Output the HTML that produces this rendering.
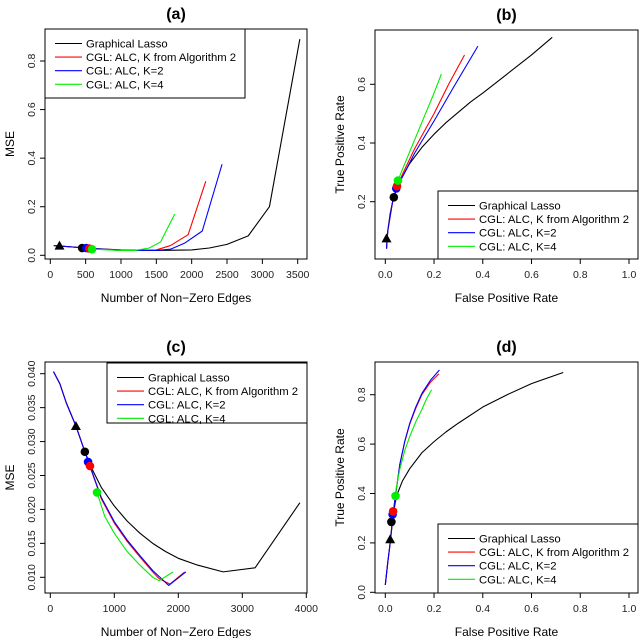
<!DOCTYPE html>
<html><head><meta charset="utf-8"><style>
body{margin:0;background:#fff;}
svg text{font-family:"Liberation Sans",Arial,sans-serif;}
</style></head><body>
<svg id="s" width="640" height="638" xmlns="http://www.w3.org/2000/svg"></svg>
<script>
// ---- data (a)
const aTicksX=[0,500,1000,1500,2000,2500,3000,3500];
const aTicksY=[0.0,0.2,0.4,0.6,0.8];
const aGLx=[50,500,1000,1500,2000,2250,2500,2800,3100,3530];
const aGLy=[0.04,0.03,0.022,0.02,0.022,0.03,0.045,0.08,0.2,0.89];
const aRx=[50,500,1000,1500,1700,1950,2200];
const aRy=[0.04,0.03,0.02,0.022,0.04,0.085,0.305];
const aBx=[50,500,1000,1500,1700,1900,2150,2430];
const aBy=[0.04,0.03,0.02,0.02,0.025,0.05,0.1,0.375];
const aGx=[600,1000,1200,1400,1560,1760];
const aGy=[0.025,0.02,0.02,0.03,0.055,0.17];
const aMk=[[130,0.04],[450,0.03],[510,0.03],[550,0.028],[590,0.025]];
// ---- data (b)
const bTicksX=[0,0.2,0.4,0.6,0.8,1.0];
const bTicksY=[0.2,0.4,0.6];
const bGLx=[0.005,0.01,0.02,0.03,0.045,0.06,0.08,0.1,0.15,0.2,0.25,0.3,0.35,0.4,0.5,0.6,0.685];
const bGLy=[0.04,0.1,0.16,0.2,0.24,0.27,0.30,0.33,0.385,0.43,0.47,0.505,0.54,0.57,0.635,0.70,0.76];
const bRx=[0.005,0.01,0.03,0.048,0.08,0.12,0.16,0.2,0.26,0.325];
const bRy=[0.04,0.1,0.2,0.253,0.31,0.38,0.44,0.5,0.6,0.7];
const bBx=[0.005,0.01,0.03,0.045,0.08,0.12,0.16,0.2,0.28,0.38];
const bBy=[0.04,0.1,0.2,0.245,0.3,0.365,0.42,0.475,0.59,0.73];
const bGx=[0.052,0.08,0.12,0.16,0.2,0.23];
const bGy=[0.272,0.33,0.41,0.49,0.57,0.635];
const bMk=[[0.005,0.075],[0.035,0.215],[0.045,0.245],[0.048,0.253],[0.052,0.272]];
// ---- data (c)
const cTicksX=[0,1000,2000,3000,4000];
const cTicksY=[0.010,0.015,0.020,0.025,0.030,0.035,0.040];
const cGLx=[50,150,250,400,540,650,800,1000,1200,1400,1600,1800,2000,2300,2700,3200,3900];
const cGLy=[0.0403,0.0385,0.0357,0.0323,0.0285,0.026,0.0232,0.0205,0.0183,0.0165,0.015,0.0138,0.0128,0.0118,0.0108,0.0114,0.021];
const cRx=[50,150,250,400,540,650,800,1000,1200,1400,1600,1700,1870,2100];
const cRy=[0.0403,0.0385,0.0357,0.0323,0.0285,0.0255,0.0215,0.018,0.0153,0.013,0.0108,0.0098,0.009,0.0108];
const cBx=[50,150,250,400,540,650,800,1000,1200,1400,1600,1850,2120];
const cBy=[0.0403,0.0385,0.0357,0.0323,0.0285,0.0256,0.0217,0.0182,0.0155,0.0132,0.011,0.0088,0.0108];
const cGx=[730,850,1000,1200,1400,1600,1700,1920];
const cGy=[0.0225,0.019,0.0165,0.0138,0.0118,0.01,0.0095,0.0108];
const cMk=[[400,0.0323],[540,0.0285],[590,0.027],[620,0.0264],[730,0.0225]];
// ---- data (d)
const dTicksX=[0,0.2,0.4,0.6,0.8,1.0];
const dTicksY=[0.0,0.2,0.4,0.6,0.8];
const dGLx=[0,0.01,0.02,0.03,0.04,0.05,0.07,0.1,0.15,0.2,0.25,0.3,0.4,0.5,0.6,0.73];
const dGLy=[0.03,0.12,0.2,0.29,0.36,0.4,0.45,0.5,0.565,0.61,0.65,0.685,0.75,0.8,0.845,0.89];
const dRx=[0,0.01,0.02,0.03,0.04,0.05,0.06,0.08,0.1,0.125,0.15,0.185,0.22];
const dRy=[0.03,0.12,0.2,0.3,0.38,0.45,0.52,0.61,0.68,0.745,0.8,0.85,0.885];
const dBx=[0,0.01,0.02,0.03,0.04,0.05,0.06,0.08,0.1,0.125,0.15,0.185,0.222];
const dBy=[0.03,0.12,0.2,0.3,0.38,0.45,0.52,0.612,0.683,0.75,0.805,0.858,0.9];
const dGx=[0.04,0.05,0.06,0.08,0.1,0.125,0.15,0.17,0.19];
const dGy=[0.39,0.45,0.5,0.575,0.63,0.69,0.74,0.785,0.82];
const dMk=[[0.02,0.215],[0.025,0.285],[0.03,0.315],[0.032,0.328],[0.042,0.39]];

const legendLabels=["Graphical Lasso","CGL: ALC, K from Algorithm 2","CGL: ALC, K=2","CGL: ALC, K=4"];
const COLS=["#000","#ff0000","#0000ff","#00ee00"];
const NS="http://www.w3.org/2000/svg";
const svg=document.getElementById('s');
function el(t,a,p){const e=document.createElementNS(NS,t);for(const k in a)e.setAttribute(k,a[k]);(p||svg).appendChild(e);return e;}
function fmt(v,d){return v.toFixed(d);}
function panel(o){
  const g=el('g',{});
  
  
  const sx=v=>o.x0+(v-o.dx0)*(o.x1-o.x0)/(o.dx1-o.dx0);
  const sy=v=>o.y0+(v-o.dy0)*(o.y1-o.y0)/(o.dy1-o.dy0);
  let t=el('text',{x:(o.L+o.R)/2,y:o.T-10,'text-anchor':'middle','font-size':16,'font-weight':'bold'},g);t.textContent='('+o.id+')';
  
  el('rect',{x:o.L,y:o.T,width:o.R-o.L,height:o.B-o.T,fill:'none',stroke:'#000','stroke-width':1},g);
  o.tx.forEach(v=>{const x=sx(v);el('line',{x1:x,x2:x,y1:o.B,y2:o.B+5,stroke:'#000'},g);
    const tt=el('text',{x:x,y:o.B+19,'text-anchor':'middle','font-size':10.5,fill:'#222'},g);tt.textContent=fmt(v,o.xd);
    });
  o.ty.forEach(v=>{const y=sy(v);el('line',{x1:o.L-5,x2:o.L,y1:y,y2:y,stroke:'#000'},g);
    const tt=el('text',{x:0,y:0,'text-anchor':'middle','font-size':10.5,fill:'#222',transform:`translate(${o.L-10},${y}) rotate(-90)`},g);tt.textContent=fmt(v,o.yd);
    });
  t=el('text',{x:(o.L+o.R)/2,y:o.B+43,'text-anchor':'middle','font-size':12},g);t.textContent=o.xl;
  
  t=el('text',{x:0,y:0,'text-anchor':'middle','font-size':12,transform:`translate(${o.L-31},${(o.T+o.B)/2}) rotate(-90)`},g);t.textContent=o.yl;
  
  const names=['graphical-lasso-line','cgl-alg2-line','cgl-k2-line','cgl-k4-line'];
  o.series.forEach((s,i)=>{const p=el('polyline',{points:s[0].map((v,j)=>sx(v)+','+sy(s[1][j])).join(' '),fill:'none',stroke:COLS[i],'stroke-width':1.1,'stroke-linejoin':'round'},g);
    });
  const mc=['#000','#000','#0000ff','#ff0000','#00ee00'];
  o.mk.forEach((m,i)=>{const x=sx(m[0]),y=sy(m[1]);let e;
    if(i==0)e=el('polygon',{points:`${x},${y-5} ${x-5},${y+4} ${x+5},${y+4}`,fill:'#000'},g);
    else e=el('circle',{cx:x,cy:y,r:4.3,fill:mc[i]},g);
    });
  const lg=el('g',{},g);
  el('rect',{x:o.lx,y:o.ly,width:o.lw,height:o.lh,fill:'#fff',stroke:'#000'},lg);
  legendLabels.forEach((s,i)=>{const y=o.ly+14.5+i*13.6;
    el('line',{x1:o.lx+10,x2:o.lx+37,y1:y,y2:y,stroke:COLS[i],'stroke-width':1.1},lg);
    const tt=el('text',{x:o.lx+41,y:y+4,'font-size':11.3},lg);tt.textContent=s;
    });
}
panel({id:'a',L:45,R:307,T:29,B:259,x0:50.3,x1:297.7,dx0:0,dx1:3500,y0:255.3,y1:61,dy0:0,dy1:0.8,
 tx:aTicksX,ty:aTicksY,xd:0,yd:1,xl:'Number of Non\u2212Zero Edges',yl:'MSE',
 series:[[aGLx,aGLy],[aRx,aRy],[aBx,aBy],[aGx,aGy]],mk:aMk,lx:45,ly:29,lw:200,lh:69});
panel({id:'b',L:375,R:638,T:30,B:259,x0:385.3,x1:629,dx0:0,dx1:1,y0:201.7,y1:84.3,dy0:0.2,dy1:0.6,
 tx:bTicksX,ty:bTicksY,xd:1,yd:1,xl:'False Positive Rate',yl:'True Positive Rate',
 series:[[bGLx,bGLy],[bRx,bRy],[bBx,bBy],[bGx,bGy]],mk:bMk,lx:438,ly:191,lw:200,lh:68});
panel({id:'c',L:45,R:307,T:362,B:593,x0:50.3,x1:306.3,dx0:0,dx1:4000,y0:577.3,y1:373.7,dy0:0.01,dy1:0.04,
 tx:cTicksX,ty:cTicksY,xd:0,yd:3,xl:'Number of Non\u2212Zero Edges',yl:'MSE',
 series:[[cGLx,cGLy],[cRx,cRy],[cBx,cBy],[cGx,cGy]],mk:cMk,lx:107,ly:363,lw:200,lh:60});
panel({id:'d',L:375,R:638,T:362,B:593,x0:385.3,x1:629,dx0:0,dx1:1,y0:592.3,y1:394.7,dy0:0,dy1:0.8,
 tx:dTicksX,ty:dTicksY,xd:1,yd:1,xl:'False Positive Rate',yl:'True Positive Rate',
 series:[[dGLx,dGLy],[dRx,dRy],[dBx,dBy],[dGx,dGy]],mk:dMk,lx:438,ly:524,lw:200,lh:69});
</script>
</body></html>
